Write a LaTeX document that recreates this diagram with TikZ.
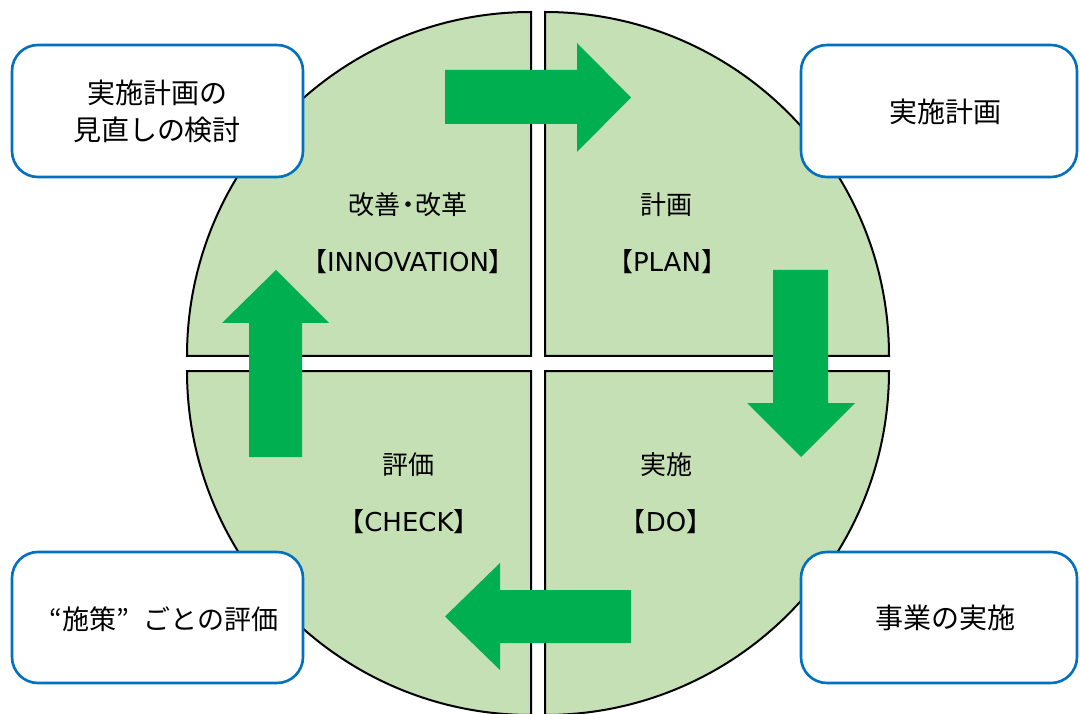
\documentclass[tikz,border=0pt]{standalone}
\usepackage{fontspec}
\setmainfont{Noto Sans CJK JP}
\newfontfamily\latfont{DejaVu Sans}
\newcommand{\brk}[1]{\makebox[0.6em][r]{【}{\latfont\fontsize{26}{32}\selectfont #1}\makebox[0.6em][l]{】}}
\definecolor{quadfill}{HTML}{C5E0B4}
\definecolor{arrowgreen}{HTML}{00B050}
\definecolor{boxblue}{HTML}{0070C0}
\tikzset{
  quad/.style={fill=quadfill, draw=black, line width=2pt, line join=miter},
  bigarrow/.style={fill=arrowgreen, draw=none},
  infobox/.style={draw=boxblue, fill=white, line width=2.6pt, rounded corners=26pt},
  boxtext/.style={font=\fontsize{28}{37}\selectfont, align=center, inner sep=0pt},
  quadtext/.style={font=\fontsize{26}{32}\selectfont, inner sep=0pt}
}
\begin{document}
\begin{tikzpicture}[x=1pt,y=-1pt]
\useasboundingbox (0,0) rectangle (1080,714);
\clip (0,0) rectangle (1080,714);
\fill[white] (0,0) rectangle (1080,714);
% quadrants
\draw[quad] (531,356) -- (187,356) arc[start angle=180, end angle=270, radius=344] -- cycle;
\draw[quad] (545,356) -- (545,12) arc[start angle=-90, end angle=0, radius=344] -- cycle;
\draw[quad] (531,371) -- (187,371) arc[start angle=180, end angle=90, radius=344] -- cycle;
\draw[quad] (545,371) -- (889,371) arc[start angle=0, end angle=90, radius=344] -- cycle;
% arrows
\fill[bigarrow] (445,70) -- (577,70) -- (577,43) -- (631,97.5) -- (577,152) -- (577,124) -- (445,124) -- cycle;
\fill[bigarrow] (773,270) -- (828,270) -- (828,403) -- (855,403) -- (801,457) -- (747,403) -- (773,403) -- cycle;
\fill[bigarrow] (631,590) -- (500,590) -- (500,563) -- (445,616.5) -- (500,670) -- (500,643) -- (631,643) -- cycle;
\fill[bigarrow] (249,457) -- (249,323) -- (222,323) -- (276,270) -- (329,323) -- (302,323) -- (302,457) -- cycle;
% quadrant labels
\node[quadtext] (innovA) at (408,205) {改善\makebox[0.6em]{・}改革};
\node[quadtext] (innovB) at (408,262) {\brk{INNOVATION}};
\node[quadtext] (planA) at (666,205) {計画};
\node[quadtext] (planB) at (667,262) {\brk{PLAN}};
\node[quadtext] (checkA) at (408,465) {評価};
\node[quadtext] (checkB) at (409,522) {\brk{CHECK}};
\node[quadtext] (doA) at (666,465) {実施};
\node[quadtext] (doB) at (666,522) {\brk{DO}};
% boxes
\draw[infobox] (12,45) rectangle (303,177);
\draw[infobox] (801,45) rectangle (1077,177);
\draw[infobox] (12,552) rectangle (303,683);
\draw[infobox] (801,552) rectangle (1077,683);
\node[boxtext] (reviewtext) at (157,111) {実施計画の\\見直しの検討};
\node[boxtext] (plantext) at (945,112) {実施計画};
\node[boxtext, font=\fontsize{27}{36}\selectfont] (evaltext) at (157,619) {\makebox[1em][r]{“}施策\makebox[1em][l]{”}ごとの評価};
\node[boxtext] (dotext) at (945,618) {事業の実施};
\end{tikzpicture}
\end{document}
